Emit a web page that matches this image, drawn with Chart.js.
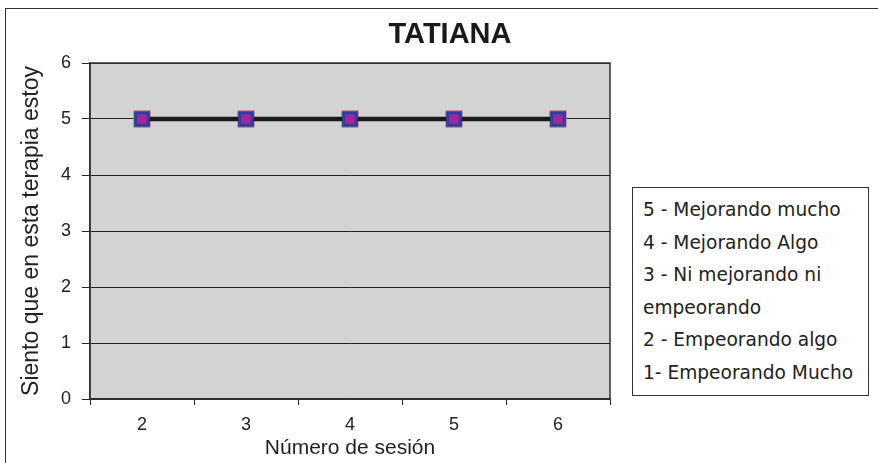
<!DOCTYPE html>
<html>
<head>
<meta charset="utf-8">
<script src="https://cdn.jsdelivr.net/npm/chart.js@4.4.1/dist/chart.umd.min.js"></script>
<style>
  html, body { margin: 0; padding: 0; overflow: hidden; background: #fff; }
  #wrap { position: relative; width: 878px; height: 463px; }
  #marco { position: absolute; left: 5px; top: 8px; width: 900px; height: 480px; border: 1.5px solid #333; }
  #leyenda {
    position: absolute; left: 632px; top: 187px; width: 225px; height: 201px;
    padding: 6px 0 0 10px; border: 1px solid #333; background: #fff;
    font-family: "DejaVu Sans", Verdana, sans-serif; font-size: 18.6px; color: #222;
  }
  #leyenda div { line-height: 32.6px; }
  canvas { position: absolute; left: 0; top: 0; }
</style>
</head>
<body>
<div id="wrap">
  <div id="marco"></div>
  <canvas id="myChart" width="878" height="463"></canvas>
  <div id="leyenda"></div>
</div>
<script>
// Data
var sesiones = ['2', '3', '4', '5', '6'];
var valores = [5, 5, 5, 5, 5];
var escala = ['5 - Mejorando mucho', '4 - Mejorando Algo', '3 - Ni mejorando ni empeorando',
              '2 - Empeorando algo', '1- Empeorando Mucho'];
var titulo = 'TATIANA';

// Legend text box on the right
var leyenda = document.getElementById('leyenda');
leyenda.innerHTML = escala.map(function (t) { return '<div>' + t + '</div>'; }).join('');

var fuente = '"Liberation Sans", Arial, sans-serif';

// gray plot area with frame, plus the title
var fondoPlugin = {
    id: 'fondo',
    beforeDraw: function (chart) {
        var a = chart.chartArea, ctx = chart.ctx;
        ctx.save();
        ctx.fillStyle = '#d3d3d3';
        ctx.fillRect(a.left, a.top, a.right - a.left, a.bottom - a.top);
        ctx.restore();
    },
    afterDraw: function (chart) {
        var a = chart.chartArea, ctx = chart.ctx;
        ctx.save();
        ctx.strokeStyle = '#333';
        ctx.lineWidth = 1.5;
        ctx.strokeRect(a.left, a.top, a.right - a.left, a.bottom - a.top);
        ctx.fillStyle = '#1a1a1a';
        ctx.font = 'bold 29px ' + fuente;
        ctx.textAlign = 'center';
        ctx.textBaseline = 'alphabetic';
        ctx.fillText(titulo, 450, 43);
        ctx.restore();
    }
};

var ctx = document.getElementById('myChart').getContext('2d');
var myChart = new Chart(ctx, {
    type: 'line',
    data: {
        labels: sesiones,
        datasets: [{
            label: titulo,
            data: valores,
            borderColor: '#1a1a1a',
            borderWidth: 4.5,
            pointStyle: 'rect',
            pointRadius: 9,
            pointBackgroundColor: '#a0289a',
            pointBorderColor: '#2a3f9e',
            pointBorderWidth: 3,
            fill: false
        },
        {
            // yellow outline under the markers
            label: titulo,
            data: valores,
            showLine: false,
            pointStyle: 'rect',
            pointRadius: 11.5,
            pointBackgroundColor: '#e8c828',
            pointBorderColor: '#c060a0',
            pointBorderWidth: 1
        }]
    },
    options: {
        responsive: false,
        animation: false,
        layout: { padding: { left: 16, top: 63, right: 268, bottom: 0 } },
        plugins: {
            legend: { display: false },
            tooltip: { enabled: false }
        },
        scales: {
            x: {
                offset: true,
                grid: { offset: true, drawOnChartArea: false, drawTicks: true, tickLength: 6, color: '#222' },
                border: { color: '#222', width: 1.5 },
                ticks: { padding: 9, color: '#222', font: { family: fuente, size: 18 } },
                title: { display: true, text: 'Número de sesión', color: '#222',
                         font: { family: fuente, size: 21 }, padding: { top: 0, bottom: 2 } },
                afterFit: function (scale) { scale.height = 64; }
            },
            y: {
                min: 0,
                max: 6,
                ticks: { stepSize: 1, padding: 11, color: '#222', font: { family: fuente, size: 18 } },
                grid: { color: '#222', lineWidth: 1, drawTicks: true, tickLength: 8 },
                border: { color: '#222', width: 1.5 },
                title: { display: true, text: 'Siento que en esta terapia estoy', color: '#222',
                         font: { family: fuente, size: 23 }, padding: { top: 2, bottom: 0 } },
                afterFit: function (scale) { scale.width = 74; }
            }
        }
    },
    plugins: [fondoPlugin]
});
</script>
</body>
</html>
